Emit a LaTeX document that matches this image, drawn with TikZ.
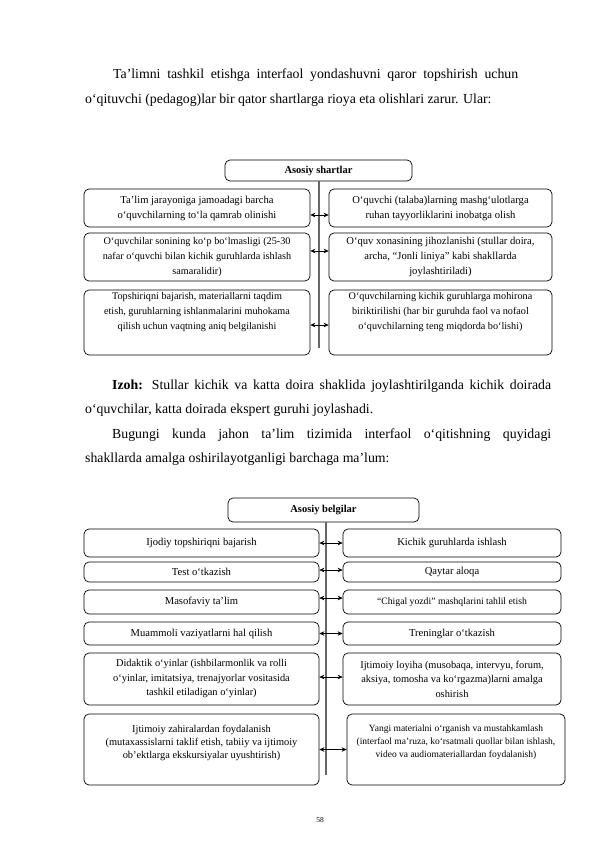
\documentclass[tikz,border=0pt]{standalone}
\usepackage{fontspec}
\setmainfont{Liberation Serif}
\usetikzlibrary{arrows.meta}
\begin{document}
\begin{tikzpicture}[x=1pt,y=-1pt,
  box/.style={draw=black, line width=0.7pt, rounded corners=5pt, inner sep=2pt, align=center,
    font={\fontsize{10.6}{15}\selectfont}},
  head/.style={box, font={\fontsize{10.5}{12}\selectfont\bfseries}},
  txt/.style={align=center, inner sep=0pt, font={\fontsize{10.6}{15}\selectfont}},
  para/.style={inner sep=0pt, anchor=base west, font={\fontsize{13.8}{25}\selectfont}},
  spine/.style={draw=black!60, line width=1.3pt},
  arr/.style={line width=0.7pt, {Stealth[length=5pt,width=4.5pt]}-{Stealth[length=5pt,width=4.5pt]}}
]
\useasboundingbox (0,0) rectangle (595,842);
\fill[white] (0,0) rectangle (595,842);

% paragraphs
\node[para] (p1) at (113,79) {\makebox[405pt][s]{Ta’limni tashkil etishga interfaol yondashuvni qaror topshirish uchun}};
\node[para] (p2) at (85,104) {o‘qituvchi (pedagog)lar bir qator shartlarga rioya eta olishlari zarur. Ular:};

% diagram 1
\node[head, minimum width=187pt, minimum height=21pt] (h1) at (318.5,170.5) {Asosiy shartlar};
\coordinate (s1) at (319,348);
\draw[spine] (h1.south -| s1) -- (s1);

\node[box, minimum width=226pt, minimum height=38pt] (a1) at (197,208) {Ta'lim jarayoniga jamoadagi barcha\\o‘quvchilarning to‘la qamrab olinishi};
\node[box, minimum width=223pt, minimum height=38pt] (b1) at (440.5,208) {O‘quvchi (talaba)larning mashg‘ulotlarga\\ruhan tayyorliklarini inobatga olish};
\node[box, minimum width=226pt, minimum height=48pt, font={\fontsize{10.2}{15}\selectfont}] (a2) at (197,257) {O‘quvchilar sonining ko‘p bo‘lmasligi (25-30\\nafar o‘quvchi bilan kichik guruhlarda ishlash\\samaralidir)};
\node[box, minimum width=223pt, minimum height=48pt] (b2) at (440.5,257) {O‘quv xonasining jihozlanishi (stullar doira,\\archa, “Jonli liniya” kabi shakllarda\\joylashtiriladi)};
\node[box, minimum width=226pt, minimum height=65pt] (a3) at (197,322.5) {};
\node[txt, font={\fontsize{10.2}{15}\selectfont}] (a3t) at ([yshift=10pt]a3.center) {Topshiriqni bajarish, materiallarni taqdim\\etish, guruhlarning ishlanmalarini muhokama\\qilish uchun vaqtning aniq belgilanishi};
\node[box, minimum width=223pt, minimum height=65pt] (b3) at (440.5,322.5) {};
\node[txt, font={\fontsize{10.2}{15}\selectfont}] (b3t) at ([yshift=10pt]b3.center) {O‘quvchilarning kichik guruhlarga mohirona\\biriktirilishi (har bir guruhda faol va nofaol\\o‘quvchilarning teng miqdorda bo‘lishi)};

\draw[arr] ([yshift=-7pt]a1.east) -- ([yshift=-7pt]b1.west);
\draw[arr] ([yshift=6pt]a2.east) -- ([yshift=6pt]b2.west);
\draw[arr] ([yshift=-2.5pt]a3.east) -- ([yshift=-2.5pt]b3.west);

% middle paragraphs
\node[para] (p3) at (112,389) {\makebox[439pt][s]{\textbf{Izoh:} Stullar kichik va katta doira shaklida joylashtirilganda kichik doirada}};
\node[para] (p4) at (85,413) {o‘quvchilar, katta doirada ekspert guruhi joylashadi.};
\node[para] (p5) at (112,438) {\makebox[439pt][s]{Bugungi kunda jahon ta’lim tizimida interfaol o‘qitishning quyidagi}};
\node[para] (p6) at (85,462) {shakllarda amalga oshirilayotganligi barchaga ma’lum:};

% diagram 2
\node[head, minimum width=191pt, minimum height=24pt] (h2) at (323.5,510) {Asosiy belgilar};
\coordinate (s2) at (326,775);
\draw[spine] (h2.south -| s2) -- (s2);

\node[box, minimum width=235pt, minimum height=28pt] (c1) at (201.5,543) {Ijodiy topshiriqni bajarish};
\node[box, minimum width=218pt, minimum height=28pt] (d1) at (452,543) {Kichik guruhlarda ishlash};
\node[box, minimum width=235pt, minimum height=20pt] (c2) at (201.5,572) {Test o‘tkazish};
\node[box, minimum width=218pt, minimum height=20pt] (d2) at (452,572) {Qaytar aloqa};
\node[box, minimum width=235pt, minimum height=24pt] (c3) at (201.5,602) {Masofaviy ta'lim};
\node[box, minimum width=218pt, minimum height=24pt, font={\fontsize{9.7}{12}\selectfont}] (d3) at (452,602) {“Chigal yozdi” mashqlarini tahlil etish};
\node[box, minimum width=235pt, minimum height=23pt] (c4) at (201.5,633.5) {Muammoli vaziyatlarni hal qilish};
\node[box, minimum width=218pt, minimum height=23pt] (d4) at (452,633.5) {Treninglar o‘tkazish};
\node[box, minimum width=235pt, minimum height=52pt, font={\fontsize{10.4}{14.5}\selectfont}] (c5) at (201.5,679) {Didaktik o‘yinlar (ishbilarmonlik va rolli\\o‘yinlar, imitatsiya, trenajyorlar vositasida\\tashkil etiladigan o‘yinlar)};
\node[box, minimum width=218pt, minimum height=52pt, font={\fontsize{10.4}{14.5}\selectfont}] (d5) at (452,679) {Ijtimoiy loyiha (musobaqa, intervyu, forum,\\aksiya, tomosha va ko‘rgazma)larni amalga\\oshirish};
\node[box, minimum width=235pt, minimum height=71pt] (c6) at (201.5,749.5) {};
\node[txt, font={\fontsize{10.4}{13}\selectfont}] (c6t) at ([yshift=7pt]c6.center) {Ijtimoiy zahiralardan foydalanish\\(mutaxassislarni taklif etish, tabiiy va ijtimoiy\\ob'ektlarga ekskursiyalar uyushtirish)};
\node[box, minimum width=218pt, minimum height=71pt] (d6) at (456,749.5) {};
\node[txt, font={\fontsize{9.5}{13}\selectfont}] (d6t) at ([yshift=7pt]d6.center) {Yangi materialni o‘rganish va mustahkamlash\\(interfaol ma'ruza, ko‘rsatmali quollar bilan ishlash,\\video va audiomateriallardan foydalanish)};

\draw[arr] (c1.east) -- (d1.west);
\draw[arr] ([yshift=2pt]c2.east) -- ([yshift=2pt]d2.west);
\draw[arr] ([yshift=4pt]c3.east) -- ([yshift=4pt]d3.west);
\draw[arr] (c4.east) -- (d4.west);
\draw[arr] ([yshift=2pt]c5.east) -- ([yshift=2pt]d5.west);
\draw[arr] (c6.east) -- (d6.west);

\node[font={\fontsize{7.5}{9}\selectfont}, inner sep=0pt] (pg) at (320,820) {58};
\end{tikzpicture}
\end{document}
